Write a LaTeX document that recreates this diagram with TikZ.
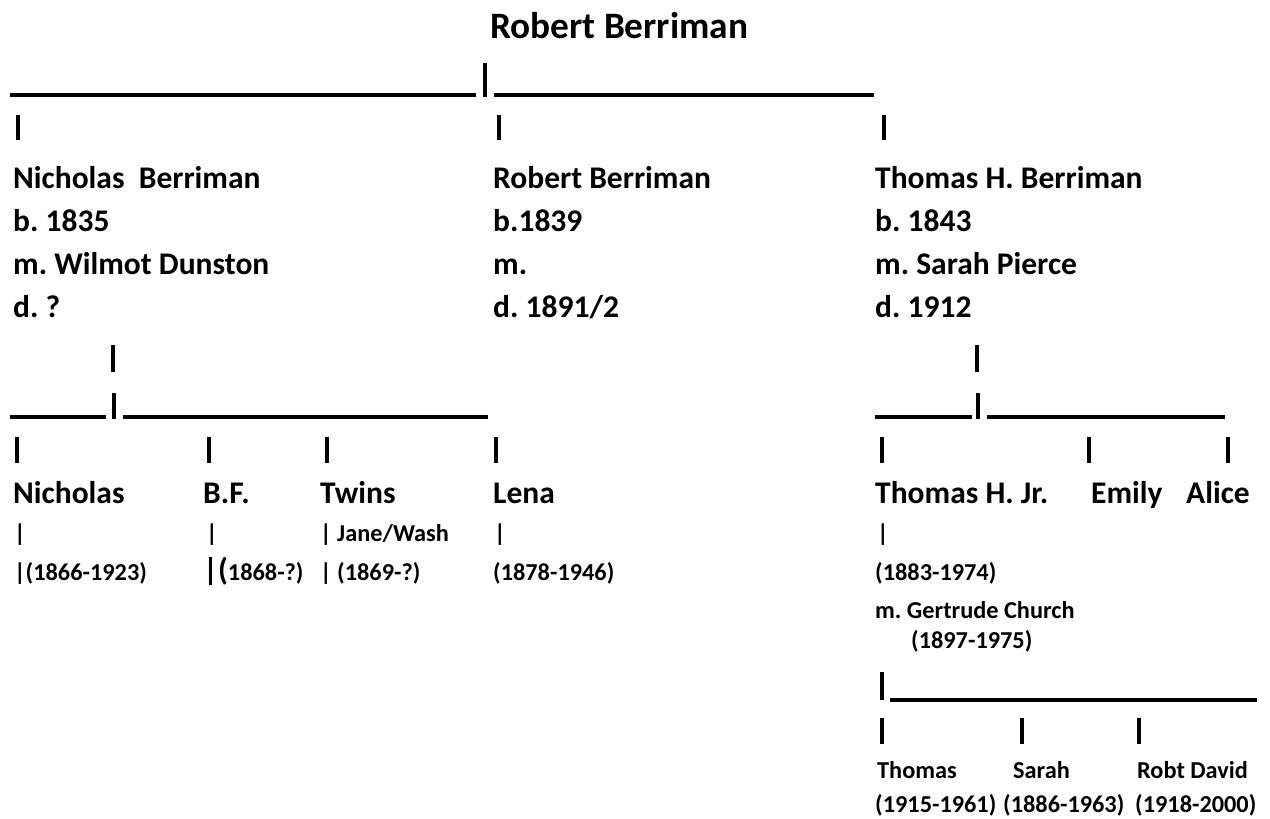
\documentclass[tikz,border=0pt]{standalone}
\usepackage{fontspec}
\setmainfont{Carlito}
\frenchspacing
\begin{document}
\begin{tikzpicture}[x=1pt,y=-1pt,
  txt/.style={anchor=base west,inner sep=0pt,font=\bfseries\fontsize{31.5}{31.5}\selectfont},
  small/.style={txt,font=\bfseries\fontsize{24.3}{24.3}\selectfont},
  bar/.style={line width=3.3pt},
  pipe/.style={line width=3.4pt}]
\useasboundingbox (0,0) rectangle (1270,819);
\node[txt,font=\bfseries\fontsize{37.3}{37.3}\selectfont] (root) at (490,38) {Robert Berriman};
% first bracket
\draw[bar] (10,95) coordinate (topL) -- (476,95) coordinate (topM); \draw[pipe] (485,63) coordinate (rootStem) -- (485,97);
\draw[bar] (494,95) -- (736,95) coordinate (topR); \draw[line width=4.3pt] (topR) -- (874,95) coordinate (topE);
\foreach \n/\x in {nickUp/18,robUp/499,tomUp/884} \draw[pipe] (\x,115) coordinate (\n) -- (\x,140);
% the three sons
\node[txt] (nick) at (13,188) {Nicholas\ \ Berriman}; \node[txt] (nickB) at (13,231) {b. 1835};
\node[txt] (nickM) at (13,274) {m. Wilmot Dunston}; \node[txt] (nickD) at (13,317) {d. ?};
\node[txt] (rob) at (493,188) {Robert Berriman}; \node[txt] (robB) at (493,231) {b.1839};
\node[txt] (robM) at (493,274) {m.}; \node[txt] (robD) at (493,317) {d. 1891/2};
\node[txt] (tom) at (875,188) {Thomas H. Berriman}; \node[txt] (tomB) at (875,231) {b. 1843};
\node[txt] (tomM) at (875,274) {m. Sarah Pierce}; \node[txt] (tomD) at (875,317) {d. 1912};
% second brackets
\draw[pipe] (113,345) coordinate (nickDown) -- (113,372); \draw[pipe] (977,345) coordinate (tomDown) -- (977,372);
\draw[bar] (10,417) -- (106,417); \draw[pipe] (114,393) -- (114,419); \draw[bar] (123,417) -- (488,417);
\draw[bar] (875,417) -- (972,417); \draw[pipe] (978,393) -- (978,419); \draw[bar] (987,417) -- (1225,417);
\foreach \n/\x in {njUp/17,bfUp/209,twUp/327,lnUp/496,tjUp/882,emUp/1089,alUp/1228} \draw[pipe] (\x,437) coordinate (\n) -- (\x,463);
% grandchildren
\node[txt] (nickjr) at (13,503) {Nicholas}; \node[txt] (bf) at (203,503) {B.F.};
\node[txt] (twins) at (320,503) {Twins}; \node[txt] (lena) at (493,503) {Lena};
\node[txt] (tomjr) at (875,503) {Thomas H. Jr.}; \node[txt] (emily) at (1091,503) {Emily}; \node[txt] (alice) at (1186,503) {Alice};
\node[small] (nickjrA) at (14,541) {|}; \node[small] (bfA) at (206,541) {|};
\node[small] (twinsA) at (320,541) {| Jane/Wash}; \node[small] (lenaA) at (494,541) {|}; \node[small] (tomjrA) at (877,541) {|};
\node[small] (nickjrY) at (14,580) {|(1866-1923)}; \node[small] (bfY) at (203,580) {{\fontsize{31.5}{31.5}\selectfont|(}1868-?)};
\node[small] (twinsY) at (320,580) {| (1869-?)}; \node[small] (lenaY) at (493,580) {(1878-1946)};
\node[small] (tomjrY) at (875,580) {(1883-1974)};
\node[small] (tomjrM) at (875,618) {m. Gertrude Church}; \node[small] (tomjrW) at (911,648) {(1897-1975)};
% third bracket
\draw[pipe] (882,672) coordinate (tjDown) -- (882,700); \draw[bar] (890,700) -- (1257,700);
\foreach \n/\x in {thUp/882,saUp/1022,rdUp/1139} \draw[pipe] (\x,718) coordinate (\n) -- (\x,744);
\node[small] (gthomas) at (877,778) {Thomas}; \node[small] (sarah) at (1013,778) {Sarah}; \node[small] (robt) at (1137,778) {Robt David};
\node[small] (gthomasY) at (875,812) {(1915-1961)}; \node[small] (sarahY) at (1003,812) {(1886-1963)}; \node[small] (robtY) at (1135,812) {(1918-2000)};
\end{tikzpicture}
\end{document}
